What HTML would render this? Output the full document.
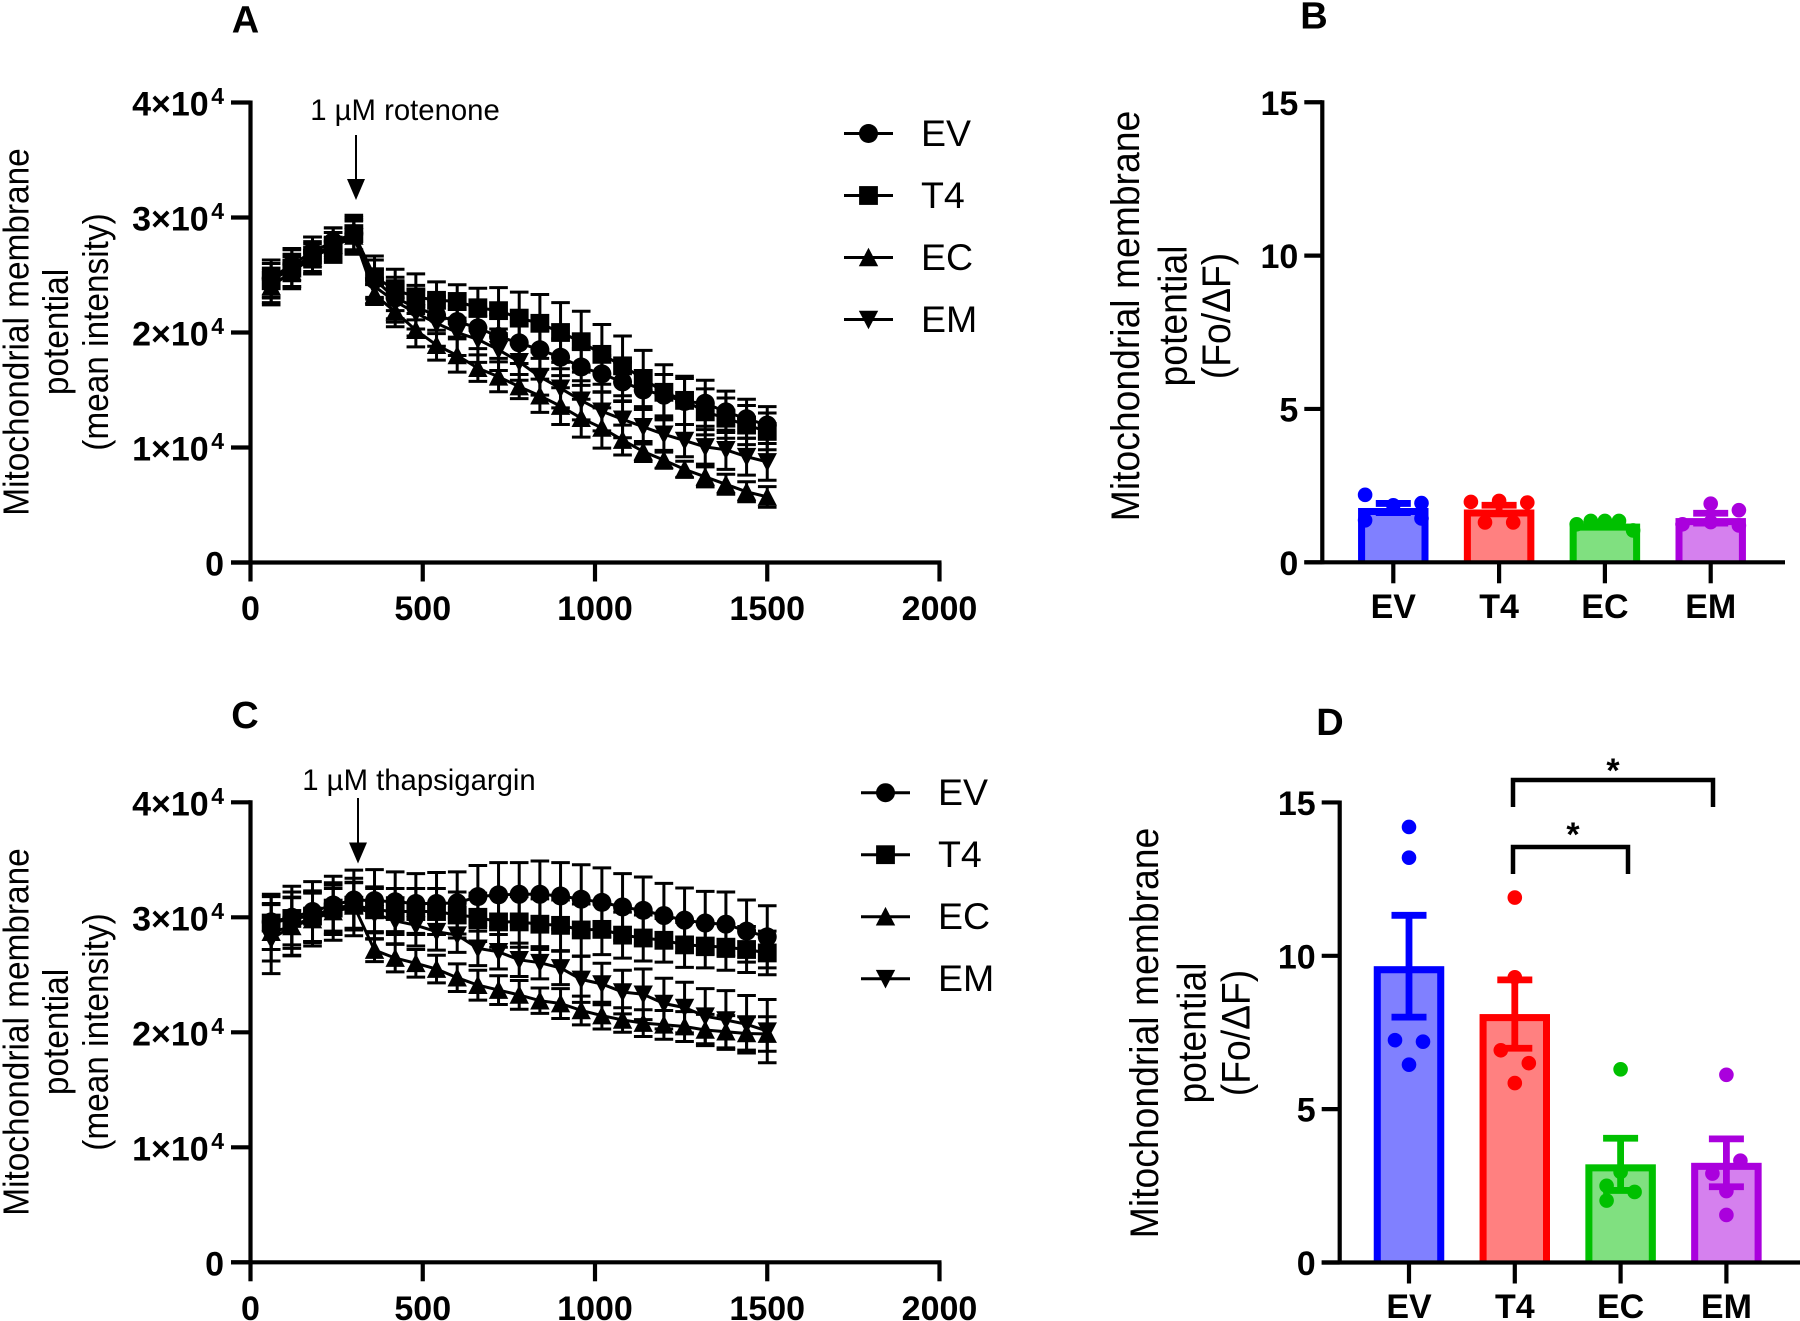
<!DOCTYPE html>
<html lang="en">
<head>
<meta charset="utf-8">
<title>Mitochondrial membrane potential</title>
<style>
html,body{margin:0;padding:0;background:#fff;width:1800px;height:1321px;overflow:hidden}
svg{display:block;font-family:"Liberation Sans",Arial,sans-serif}
.title{font-size:33.4px;fill:#000;text-anchor:middle}
.titleb{font-size:37.3px;fill:#000;text-anchor:middle}
.panel{font-size:38px;font-weight:700;text-anchor:middle;fill:#000}
.note{font-size:29.3px;fill:#000;text-anchor:middle}
</style>
</head>
<body>
<svg id="fig" xmlns="http://www.w3.org/2000/svg" width="1800" height="1321" viewBox="0 0 1800 1321">
  <rect width="1800" height="1321" fill="#fff"/>

  <text class="panel" x="245.5" y="32.5">A</text>
  <text class="panel" x="1314" y="28.5">B</text>
  <text class="panel" x="245" y="728">C</text>
  <text class="panel" x="1330" y="735">D</text>

  <g>
    <text class="title" transform="translate(28.5,332) rotate(-90) scale(1,1.08)">Mitochondrial membrane</text>
    <text class="title" transform="translate(68,332) rotate(-90) scale(1,1.08)">potential</text>
    <text class="title" transform="translate(108,332) rotate(-90) scale(1,1.08)">(mean intensity)</text>
  </g>
  <g>
    <text class="title" transform="translate(28.5,1032) rotate(-90) scale(1,1.08)">Mitochondrial membrane</text>
    <text class="title" transform="translate(68,1032) rotate(-90) scale(1,1.08)">potential</text>
    <text class="title" transform="translate(108,1032) rotate(-90) scale(1,1.08)">(mean intensity)</text>
  </g>
  <g>
    <text class="titleb" transform="translate(1139,316) rotate(-90) scale(1,1.08)">Mitochondrial membrane</text>
    <text class="titleb" transform="translate(1186.5,316) rotate(-90) scale(1,1.08)">potential</text>
    <text class="titleb" transform="translate(1230,316) rotate(-90) scale(1,1.08)">(Fo/ΔF)</text>
  </g>
  <g>
    <text class="titleb" transform="translate(1158,1033) rotate(-90) scale(1,1.08)">Mitochondrial membrane</text>
    <text class="titleb" transform="translate(1205.5,1033) rotate(-90) scale(1,1.08)">potential</text>
    <text class="titleb" transform="translate(1249.5,1033) rotate(-90) scale(1,1.08)">(Fo/ΔF)</text>
  </g>

  <g>
    <text class="note" x="405" y="120">1 µM rotenone</text>
    <line x1="356" y1="135" x2="356" y2="182" stroke="#000" stroke-width="2"/>
    <polygon points="347,179 365,179 356,200" fill="#000"/>
  </g>
  <g>
    <text class="note" x="419" y="790">1 µM thapsigargin</text>
    <line x1="358" y1="798" x2="358" y2="845" stroke="#000" stroke-width="2"/>
    <polygon points="349,842.5 367,842.5 358,863.5" fill="#000"/>
  </g>

  <g>
    <path d="M1513 807V780H1713V807" fill="none" stroke="#000" stroke-width="4.5"/>
    <path d="M1513 874V847H1628V874" fill="none" stroke="#000" stroke-width="4.5"/>
    <text x="1613" y="782" font-size="34" font-weight="700" text-anchor="middle">*</text>
    <text x="1573" y="846" font-size="34" font-weight="700" text-anchor="middle">*</text>
  </g>

  <g id="layer"></g>
</svg>

<script>
// Shared categories and ticks
const timePoints = [60,120,180,240,300,360,420,480,540,600,660,720,780,840,900,960,1020,1080,1140,1200,1260,1320,1380,1440,1500];
const seriesNames = ['EV','T4','EC','EM'];
const xTickValues = [0,500,1000,1500,2000];
const yTickValues = [0,10000,20000,30000,40000];
const yTickBases = ['0','1×10','2×10','3×10','4×10'];
const barTickValues = [0,5,10,15];

// Panel A means
const aEV = [24700,25900,27000,27900,28600,24600,23000,22200,21500,20950,20400,19650,19100,18500,17850,17000,16400,15700,15000,14550,14000,13850,13100,12500,11950];
const aT4 = [24500,25600,26700,27600,28600,24850,23700,23100,22800,22700,22150,21900,21250,20800,20000,19200,18100,17100,16000,14800,14100,13100,12550,11950,11400];
const aEC = [24000,25300,26500,27600,28400,23300,21800,20200,18900,18000,16900,16150,15300,14500,13600,12550,11700,10650,9650,8900,8100,7450,6800,6150,5700];
const aEM = [24000,25300,26500,27500,28300,24000,22700,21700,20800,20000,19400,18500,17450,16150,15150,14100,13150,12450,11800,11150,10600,10050,9800,9200,8750];
// Panel A standard errors
const aEVErr = [1600,1400,1300,1200,1400,1700,1800,1900,1600,1350,1800,1900,1800,1700,1600,1600,1600,1700,1700,1800,2000,2000,1800,1700,1600];
const aT4Err = [1500,1600,1600,1500,1600,1800,1800,2000,1600,1450,1700,2000,2260,2500,2600,2650,2600,2600,2450,2400,2100,2000,1750,1700,1600];
const aECErr = [1400,1300,1200,1100,1300,870,1300,1450,1300,1450,1150,1300,1050,1450,1600,1650,1750,1300,870,700,700,870,870,870,900];
const aEMErr = [1600,1500,1400,1200,1500,1500,1800,2000,2000,2000,2000,1800,1600,1600,1700,1700,1700,1600,1500,1400,1400,1500,1700,1600,1600];

// Panel C means
const cEV = [29600,30000,30500,31070,31500,31450,31350,31200,31200,31250,31800,31950,32000,32000,31850,31570,31300,30900,30600,30150,29750,29500,29400,28800,28300];
const cT4 = [29500,29900,30100,30800,31050,30650,30500,30500,30500,30200,30000,29600,29600,29400,29300,28900,28950,28450,28200,28000,27600,27500,27400,27200,26900];
const cEC = [28700,29200,29800,30500,31000,27150,26450,26000,25500,24750,24100,23670,23250,22750,22500,21900,21450,21070,20800,20650,20500,20200,20050,19900,19850];
const cEM = [28100,29200,30000,30500,30900,30300,29700,29300,28750,28450,27300,27000,26300,26050,25600,24600,24200,23500,23300,22500,22150,21400,21070,20700,20100];
// Panel C standard errors
const cEVErr = [2400,2700,2600,2500,2600,2700,2600,2600,2700,2700,2700,2800,2750,2900,2900,3000,3000,2900,2900,2800,2800,2750,2800,2700,2700];
const cT4Err = [2300,2300,2200,2000,2000,2000,2000,2000,2000,2000,2100,2200,2200,2200,2200,2260,2200,2000,2000,1900,1950,1900,2000,2000,1900];
const cECErr = [2500,2500,2300,2000,2000,1000,1200,1200,1200,1200,1300,1250,1250,1100,1300,1250,1160,1070,1160,1250,1300,1360,1400,1450,1500];
const cEMErr = [3000,2550,2200,2500,2500,2200,2000,1800,1600,1500,1500,1500,1450,1400,1450,2000,1800,1900,2200,2200,2200,2400,2550,2500,2750];

// Panel B bars
const bMeans = [1.77,1.72,1.26,1.44];
const bSem = [0.15,0.14,0.05,0.16];
const bDotsEV = [2.2,1.86,1.93,1.37,1.43];
const bDotsT4 = [1.97,2.0,1.95,1.3,1.3];
const bDotsEC = [1.24,1.35,1.35,1.35,1.04];
const bDotsEM = [1.91,1.7,1.24,1.31,1.2];
// Swarm columns for each dot (column index, not pixels)
const bSlotsEV = [-2,0,2,-2,2];
const bSlotsT4 = [-2,0,2,-1,1];
const bSlotsEC = [-2,-1,0,1,2];
const bSlotsEM = [0,2,-2,0,2];

// Panel D bars
const dMeans = [9.66,8.1,3.2,3.25];
const dSem = [1.66,1.115,0.85,0.78];
const dDotsEV = [14.2,13.2,7.25,7.2,6.45];
const dDotsT4 = [11.9,9.3,6.92,6.5,5.85];
const dDotsEC = [6.3,2.95,2.5,2.3,2.02];
const dDotsEM = [6.12,3.32,2.9,2.33,1.55];
const dSlotsEV = [0,0,-1,1,0];
const dSlotsT4 = [0,0,-1,1,0];
const dSlotsEC = [0,0,-1,1,-1];
const dSlotsEM = [0,1,-1,0,0];

const barColors = ['#0000ff','#ff0000','#00c000','#aa00dd'];
const barFills = ['#8080ff','#ff8080','#80e080','#d580ee'];

const SVGNS = 'http://www.w3.org/2000/svg';
const layer = document.getElementById('layer');

function make(parent, tag, attrs) {
  const node = document.createElementNS(SVGNS, tag);
  for (const k in attrs) node.setAttribute(k, attrs[k]);
  parent.appendChild(node);
  return node;
}

// Draws one marker symbol, centered at (cx, cy)
function marker(parent, type, cx, cy, label) {
  let el;
  if (type === 'EV') {
    el = make(parent, 'circle', {cx: cx, cy: cy, r: 9.5, fill: '#000'});
  } else if (type === 'T4') {
    el = make(parent, 'rect', {x: cx - 9.4, y: cy - 9.4, width: 18.8, height: 18.8, fill: '#000'});
  } else if (type === 'EC') {
    el = make(parent, 'polygon', {points: (cx - 9.7) + ',' + (cy + 8.8) + ' ' + (cx + 9.7) + ',' + (cy + 8.8) + ' ' + cx + ',' + (cy - 9.8), fill: '#000'});
  } else {
    el = make(parent, 'polygon', {points: (cx - 9.7) + ',' + (cy - 8.8) + ' ' + (cx + 9.7) + ',' + (cy - 8.8) + ' ' + cx + ',' + (cy + 9.8), fill: '#000'});
  }
  
  
  return el;
}

function axisLine(parent, x1, y1, x2, y2, width, label) {
  const el = make(parent, 'line', {x1: x1, y1: y1, x2: x2, y2: y2, stroke: '#000', 'stroke-width': width});
  
  
  return el;
}

function tickText(parent, x, y, anchor, str, label) {
  const el = make(parent, 'text', {x: x, y: y, 'text-anchor': anchor, 'font-size': 34, 'font-weight': 700, fill: '#000'});
  el.textContent = str;
  
  
  return el;
}

function drawTimeChart(id, yZero, series, errors, legendX, legendY) {
  const xScale = v => 250.5 + v * 0.3445;
  const yScale = v => yZero - v * 0.0115;

  const g = make(layer, 'g', {});
  
  

  axisLine(g, xScale(0), yScale(40000) - 2, xScale(0), yZero + 2, 4.2, id + '-y-axis');
  axisLine(g, 231, yZero, xScale(2000) + 2, yZero, 4.2, id + '-x-axis');

  yTickValues.forEach((v, i) => {
    axisLine(g, 231, yScale(v), xScale(0), yScale(v), 4.2, id + '-y-tick-' + v);
    const t = tickText(g, 224, yScale(v) + 13, 'end', yTickBases[i], id + '-y-tick-label-' + v);
    if (i > 0) {
      const sup = make(t, 'tspan', {dx: 2.5, dy: -11.5, 'font-size': 23});
      sup.textContent = '4';
      
      
    }
  });
  xTickValues.forEach(v => {
    axisLine(g, xScale(v), yZero, xScale(v), yZero + 19, 4.2, id + '-x-tick-' + v);
    tickText(g, xScale(v), yZero + 57.5, 'middle', String(v), id + '-x-tick-label-' + v);
  });

  seriesNames.forEach((name, s) => {
    const sg = make(g, 'g', {});
    
    

    const path = timePoints.map((t, i) => xScale(t).toFixed(1) + ',' + yScale(series[s][i]).toFixed(1)).join(' ');
    const line = make(sg, 'polyline', {points: path, fill: 'none', stroke: '#000', 'stroke-width': 3});
    
    

    timePoints.forEach((t, i) => {
      const cx = xScale(t);
      const hi = yScale(series[s][i] + errors[s][i]);
      const lo = yScale(series[s][i] - errors[s][i]);
      const bar = make(sg, 'path', {
        d: 'M' + cx + ' ' + hi + 'V' + lo + 'M' + (cx - 9.3) + ' ' + hi + 'H' + (cx + 9.3) + 'M' + (cx - 9.3) + ' ' + lo + 'H' + (cx + 9.3),
        fill: 'none', stroke: '#000', 'stroke-width': 3
      });
      
      
      marker(sg, name, cx, yScale(series[s][i]), id + '-point-' + name + '-' + t);
    });
  });

  seriesNames.forEach((name, s) => {
    const y = legendY + s * 62;
    const lg = make(g, 'g', {});
    
    
    axisLine(lg, legendX, y, legendX + 49, y, 3, id + '-legend-line-' + name);
    marker(lg, name, legendX + 24.5, y, id + '-legend-marker-' + name);
    const label = make(lg, 'text', {x: legendX + 77, y: y + 12.5, 'font-size': 37.5, fill: '#000'});
    label.textContent = name;
    
    
  });
}

function drawBarChart(id, axisX, yZero, firstCenter, axisEnd, labelBase, means, sem, dots, slots, slotWidth) {
  const yScale = v => yZero - v * 30.67;
  const xScale = i => firstCenter + i * 105.8;

  const g = make(layer, 'g', {});
  
  

  seriesNames.forEach((name, i) => {
    const cx = xScale(i);
    const top = yScale(means[i]);
    const left = cx - 35.2;
    const right = cx + 35.2;
    const fill = make(g, 'rect', {x: left, y: top, width: right - left, height: yZero - top, fill: barFills[i]});
    
    
    const outline = make(g, 'path', {
      d: 'M' + (left + 3.5) + ' ' + yZero + 'V' + (top + 3.5) + 'H' + (right - 3.5) + 'V' + yZero,
      fill: 'none', stroke: barColors[i], 'stroke-width': 7
    });
    
    

    const hi = yScale(means[i] + sem[i]);
    const lo = yScale(means[i] - sem[i]);
    const err = make(g, 'path', {
      d: 'M' + cx + ' ' + hi + 'V' + lo + 'M' + (cx - 17.5) + ' ' + hi + 'H' + (cx + 17.5) + 'M' + (cx - 17.5) + ' ' + lo + 'H' + (cx + 17.5),
      fill: 'none', stroke: barColors[i], 'stroke-width': 6.8
    });
    
    

    dots[i].forEach((v, j) => {
      const dot = make(g, 'circle', {cx: cx + slots[i][j] * slotWidth, cy: yScale(v), r: 7.3, fill: barColors[i]});
      
      
    });

    axisLine(g, cx, yZero, cx, yZero + 21, 4.2, id + '-x-tick-' + name);
    tickText(g, cx, labelBase, 'middle', name, id + '-x-tick-label-' + name);
  });

  axisLine(g, axisX, yScale(15) - 2, axisX, yZero + 2, 4.2, id + '-y-axis');
  axisLine(g, axisX - 18, yZero, axisEnd, yZero, 4.2, id + '-x-axis');
  barTickValues.forEach(v => {
    axisLine(g, axisX - 18, yScale(v), axisX, yScale(v), 4.2, id + '-y-tick-' + v);
    tickText(g, axisX - 24, yScale(v) + 12.5, 'end', String(v), id + '-y-tick-label-' + v);
  });
}

drawTimeChart('panel-a', 562.5, [aEV, aT4, aEC, aEM], [aEVErr, aT4Err, aECErr, aEMErr], 844, 133.5);
drawTimeChart('panel-c', 1262.3, [cEV, cT4, cEC, cEM], [cEVErr, cT4Err, cECErr, cEMErr], 861, 792.7);
drawBarChart('panel-b', 1322.3, 562.3, 1393.3, 1785, 618, bMeans, bSem,
  [bDotsEV, bDotsT4, bDotsEC, bDotsEM], [bSlotsEV, bSlotsT4, bSlotsEC, bSlotsEM], 14.1);
drawBarChart('panel-d', 1339.7, 1262.5, 1409, 1800, 1318, dMeans, dSem,
  [dDotsEV, dDotsT4, dDotsEC, dDotsEM], [dSlotsEV, dSlotsT4, dSlotsEC, dSlotsEM], 14);
</script>
</body>
</html>
